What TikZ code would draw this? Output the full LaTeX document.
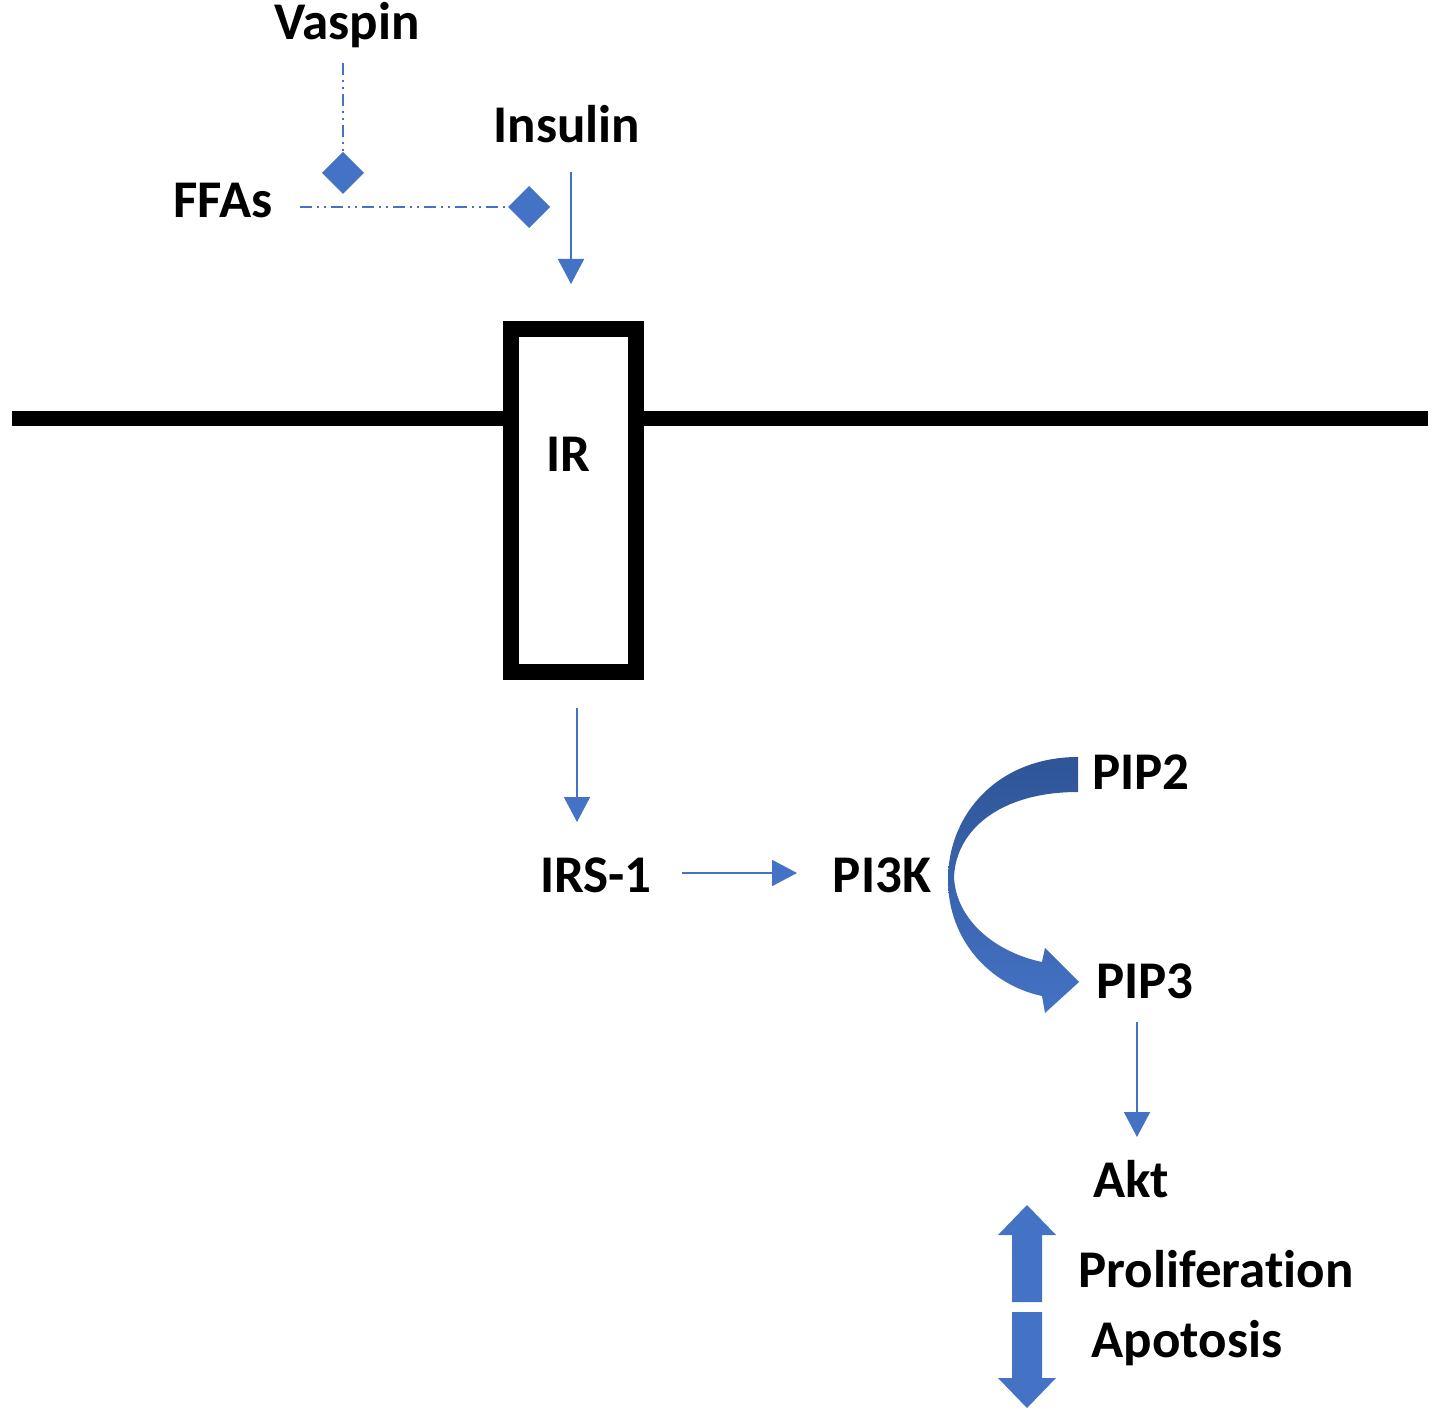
\documentclass[tikz,border=0pt]{standalone}
\usepackage{fontspec}
\setmainfont{Carlito}[Ligatures={NoCommon}]
\usetikzlibrary{arrows.meta}
\definecolor{oblue}{HTML}{4472C4}
\definecolor{dblue}{HTML}{2F5597}
\tikzset{
  lab/.style={font=\fontsize{26.5pt}{30pt}\selectfont\bfseries, anchor=base, inner sep=0pt},
  thinarr/.style={draw=oblue, line width=1pt, -{Triangle[length=12.5pt,width=13pt]}, oblue},
  ddline/.style={draw=oblue, line width=1pt, dash pattern=on 6pt off 2.5pt on 1pt off 2.5pt on 1pt off 2.5pt, -{Diamond[length=21pt,width=21pt]}},
}
\begin{document}
\begin{tikzpicture}[x=0.5pt,y=-0.5pt]
\useasboundingbox (0,0) rectangle (1441,1417);
% texts
\node[lab] (vaspin) at (347,40) {Vaspin};
\node[lab] (insulin) at (567,143) {Insulin};
\node[lab] (ffas) at (223,218) {FFAs};
\node[lab] (irs) at (596,892) {IRS-1};
\node[lab] (pi3k) at (882,892) {PI3K};
\node[lab] (pip2) at (1141,789) {PIP2};
\node[lab] (pip3) at (1145,998) {PIP3};
\node[lab] (akt) at (1131,1197) {Akt};
\node[lab] (prolif) at (1216,1287) {Proliferation};
\node[lab] (apop) at (1187,1357) {Apotosis};
% membrane and receptor
\coordinate (memL) at (12,419);
\coordinate (memR) at (1428,419);
\draw[line width=7.5pt] (memL) -- (memR);
\node[draw, line width=8pt, fill=white, minimum width=125*0.5pt, minimum height=343*0.5pt, inner sep=0pt] (irbox) at (573.5,500.5) {};
\node[lab] (ir) at (568,472) {IR};
% inhibitory dash-dot lines
\coordinate (vA) at (343,63);
\coordinate (vB) at (343,194);
\draw[ddline] (vA) -- (vB);
\coordinate (fA) at (300,207);
\coordinate (fB) at (550,207);
\draw[ddline] (fA) -- (fB);
% thin arrows
\coordinate (insA) at (571,172);
\coordinate (insB) at (571,284);
\draw[thinarr] (insA) -- (insB);
\coordinate (irA) at (577,708);
\coordinate (irB) at (577,822);
\draw[thinarr] (irA) -- (irB);
\coordinate (irsA) at (682,873);
\coordinate (irsB) at (797,873);
\draw[thinarr] (irsA) -- (irsB);
\coordinate (pipA) at (1137,1022);
\coordinate (pipB) at (1137,1137);
\draw[thinarr] (pipA) -- (pipB);
% curved thick arrow PIP2 -> PIP3
\path[top color=dblue, bottom color=oblue]
  (1078,757) .. controls (1000,757) and (948,812) .. (948,880)
  .. controls (948,940) and (990,985) .. (1042,996)
  -- (1045,1013) -- (1079,982) -- (1045,948) -- (1042,962)
  .. controls (995,952) and (956,920) .. (954,877)
  .. controls (956,830) and (1000,792) .. (1078,792) -- cycle;
% up / down block arrows
\fill[oblue] (1027,1205) -- (1056,1235) -- (1042,1235) -- (1042,1302) -- (1012,1302) -- (1012,1235) -- (998,1235) -- cycle;
\fill[oblue] (1012,1312) -- (1042,1312) -- (1042,1378) -- (1056,1378) -- (1027,1408) -- (998,1378) -- (1012,1378) -- cycle;
\end{tikzpicture}
\end{document}
